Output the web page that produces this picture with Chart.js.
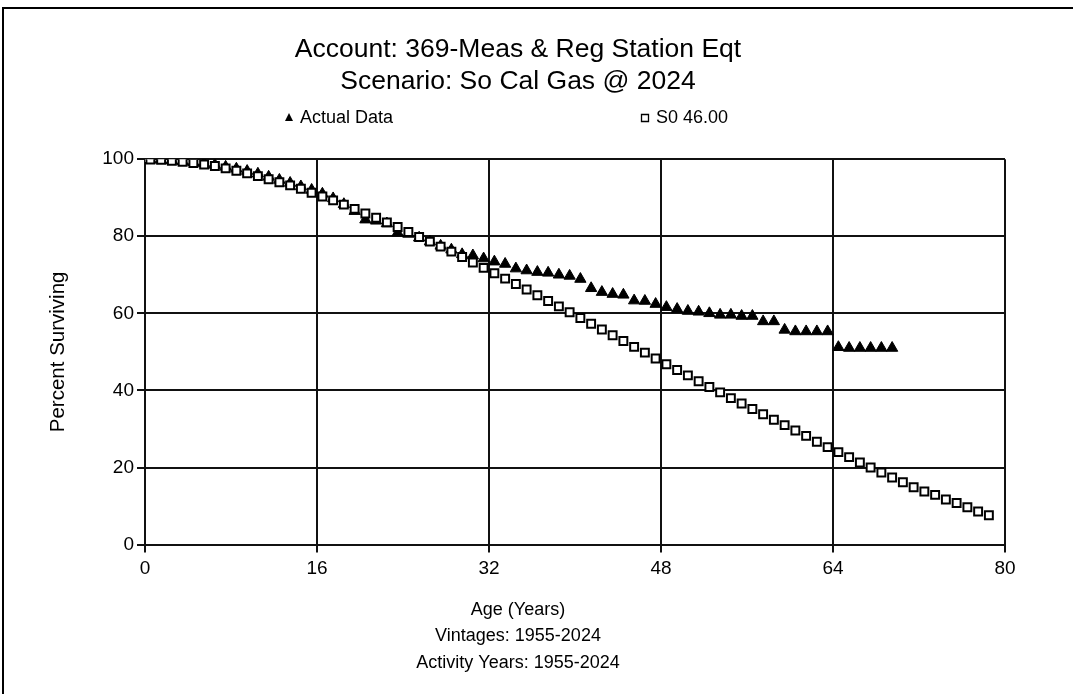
<!DOCTYPE html>
<html>
<head>
<meta charset="utf-8">
<title>Account 369 - Meas &amp; Reg Station Eqt</title>
<script src="https://cdn.jsdelivr.net/npm/chart.js@4.4.1/dist/chart.umd.min.js"></script>
<style>
body{margin:0;background:#fff}
#frame{position:absolute;left:2px;top:7px;width:1200px;height:800px;border:2px solid #000}
#wrap{position:absolute;left:0;top:0;width:1073px;height:694px}
</style>
</head>
<body>
<div id="frame"></div>
<div id="wrap"><canvas id="chart" width="1073" height="694"></canvas></div>
<script>
// ages (years) where points are plotted
const ages = [0,0.5,1.5,2.5,3.5,4.5,5.5,6.5,7.5,8.5,
9.5,10.5,11.5,12.5,13.5,14.5,15.5,16.5,17.5,18.5,
19.5,20.5,21.5,22.5,23.5,24.5,25.5,26.5,27.5,28.5,
29.5,30.5,31.5,32.5,33.5,34.5,35.5,36.5,37.5,38.5,
39.5,40.5,41.5,42.5,43.5,44.5,45.5,46.5,47.5,48.5,
49.5,50.5,51.5,52.5,53.5,54.5,55.5,56.5,57.5,58.5,
59.5,60.5,61.5,62.5,63.5,64.5,65.5,66.5,67.5,68.5,
69.5,70.5,71.5,72.5,73.5,74.5,75.5,76.5,77.5,78.5]

// percent surviving, observed
const actualData = [100,99.9,99.8,99.6,99.4,99.2,98.9,98.5,98.0,97.5,
96.9,96.2,95.4,94.6,93.8,92.9,92.0,91.0,89.8,88.3,
86.5,84.3,84.0,83.3,80.9,80.6,79.6,78.6,77.5,76.5,
75.3,75.0,74.2,73.4,72.8,71.6,71.1,70.7,70.5,70.0,
69.7,68.9,66.5,65.5,65.0,64.8,63.3,63.2,62.4,61.6,
61.1,60.6,60.4,60.0,59.6,59.6,59.3,59.3,57.9,57.9,
55.7,55.3,55.3,55.3,55.3,51.2,51.0,51.0,51.0,51.0,51.0]

// percent surviving, S0 46.00 curve
const s0Data = [100,99.9,99.8,99.6,99.3,99.0,98.6,98.2,97.6,97.0,
96.3,95.6,94.8,94.0,93.2,92.3,91.3,90.3,89.3,88.2,
87.1,85.9,84.8,83.6,82.4,81.1,79.8,78.6,77.3,76.0,
74.6,73.2,71.8,70.4,69.0,67.6,66.2,64.7,63.2,61.8,
60.3,58.8,57.3,55.8,54.3,52.8,51.3,49.8,48.3,46.8,
45.3,43.9,42.4,40.9,39.5,38.0,36.6,35.2,33.8,32.4,
31.0,29.6,28.2,26.7,25.3,24.0,22.7,21.3,20.0,18.7,
17.4,16.2,14.9,13.8,12.9,11.7,10.8,9.7,8.6,7.6]

const seriesNames = ['Actual Data', 'S0 46.00']
const titleLines = ['Account: 369-Meas & Reg Station Eqt', 'Scenario: So Cal Gas @ 2024']
const footLines = ['Age (Years)', 'Vintages: 1955-2024', 'Activity Years: 1955-2024']
const xTicks = [0, 16, 32, 48, 64, 80]
const yTicks = [0, 20, 40, 60, 80, 100]

const FONT = '"Liberation Sans", Arial, sans-serif'

function toPoints(values){
  return values.map((v, i) => ({x: ages[i], y: v}))
}

// legend drawn by hand, the two entries sit far apart
const fixedLegend = {
  id: 'fixedLegend',
  afterDraw(chart){
    const ctx = chart.ctx
    const spots = [{mx: 289, tx: 300}, {mx: 645, tx: 656}]
    const y = 118
    ctx.save()
    ctx.font = '18px ' + FONT
    ctx.fillStyle = '#000'
    ctx.strokeStyle = '#000'
    ctx.textBaseline = 'middle'
    chart.data.datasets.forEach((ds, i) => {
      const s = spots[i]
      ctx.beginPath()
      if (ds.pointStyle === 'triangle') {
        ctx.moveTo(s.mx, y - 5)
        ctx.lineTo(s.mx + 4, y + 3)
        ctx.lineTo(s.mx - 4, y + 3)
        ctx.closePath()
        ctx.fill()
      } else {
        ctx.lineWidth = 1.3
        ctx.rect(s.mx - 3.5, y - 3.5, 7, 7)
        ctx.stroke()
      }
      ctx.fillText(ds.label, s.tx, y)
    })
    ctx.restore()
  }
}

new Chart(document.getElementById('chart'), {
  type: 'scatter',
  data: {
    datasets: [
      {
        label: seriesNames[0],
        data: toPoints(actualData),
        pointStyle: 'triangle',
        pointRadius: 6.5,
        pointBackgroundColor: '#000',
        pointBorderColor: '#000',
        pointBorderWidth: 1,
        order: 2
      },
      {
        label: seriesNames[1],
        data: toPoints(s0Data),
        pointStyle: 'rect',
        pointRadius: 5.6,
        pointBackgroundColor: '#fff',
        pointBorderColor: '#000',
        pointBorderWidth: 2,
        order: 1
      }
    ]
  },
  options: {
    responsive: false,
    animation: false,
    layout: {padding: {left: 31, right: 68, top: 0, bottom: 0}},
    plugins: {
      legend: {display: false},
      tooltip: {enabled: false},
      title: {
        display: true,
        text: titleLines,
        color: '#000',
        font: {family: FONT, size: 26.5, weight: 'normal', lineHeight: 1.21},
        padding: {top: 34, bottom: 61}
      },
      subtitle: {
        display: true,
        position: 'bottom',
        text: footLines,
        color: '#000',
        font: {family: FONT, size: 18, weight: 'normal', lineHeight: 1.47},
        padding: {top: 12, bottom: 18}
      }
    },
    scales: {
      x: {
        type: 'linear',
        min: 0,
        max: 80,
        afterBuildTicks: s => { s.ticks = xTicks.map(v => ({value: v})) },
        afterFit: s => { s.height = 40 },
        ticks: {color: '#000', font: {family: FONT, size: 19}, padding: 5, maxRotation: 0},
        grid: {color: '#111', lineWidth: 2, tickLength: 8},
        border: {color: '#111', width: 2}
      },
      y: {
        min: 0,
        max: 100,
        afterBuildTicks: s => { s.ticks = yTicks.map(v => ({value: v})) },
        afterFit: s => { s.width = 114 },
        ticks: {color: '#000', font: {family: FONT, size: 19}, padding: 3},
        grid: {color: '#111', lineWidth: 2, tickLength: 8},
        border: {color: '#111', width: 2},
        title: {
          display: true,
          text: 'Percent Surviving',
          color: '#000',
          font: {family: FONT, size: 20.5},
          padding: {top: 15, bottom: 0}
        }
      }
    }
  },
  plugins: [fixedLegend]
})
</script>
</body>
</html>
